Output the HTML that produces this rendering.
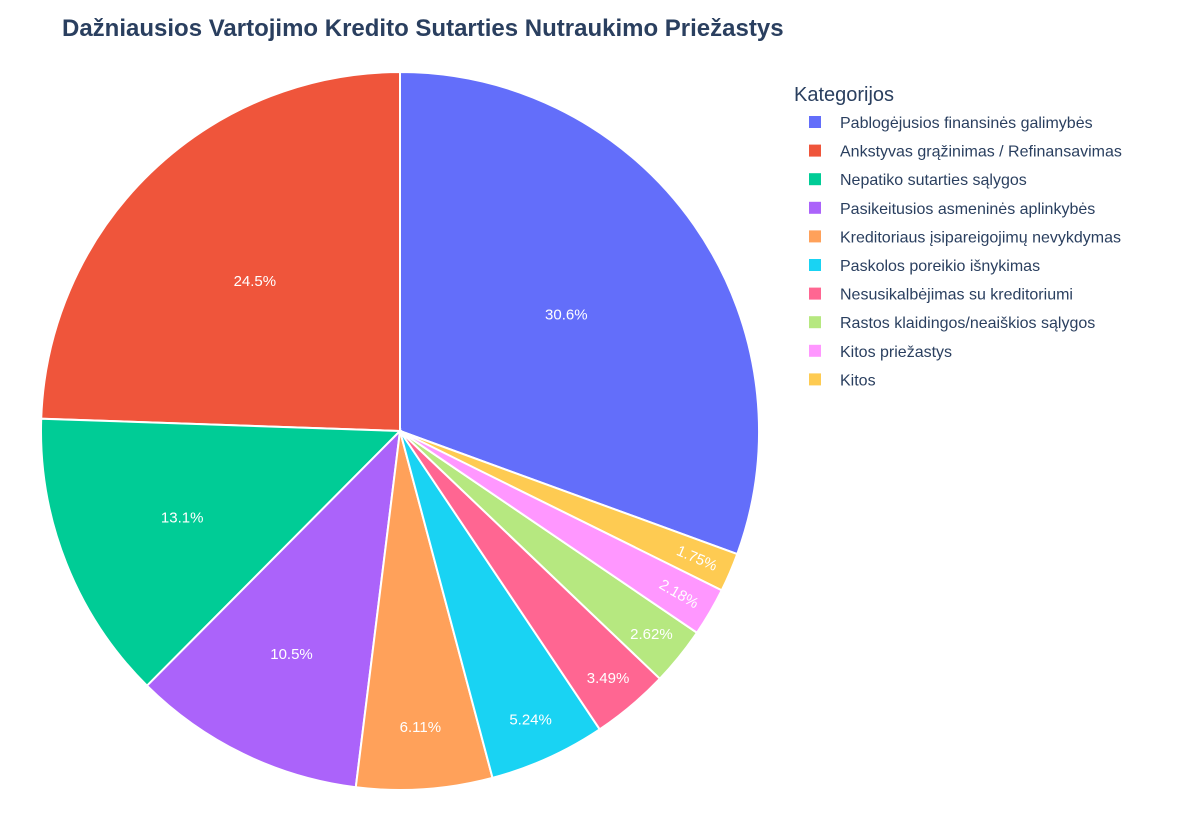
<!DOCTYPE html>
<html><head><meta charset="utf-8">
<style>
body{margin:0;background:#fff;}
svg{display:block;font-family:"Liberation Sans",Arial,sans-serif;}
</style></head>
<body>
<svg id="chart" width="1200" height="840" viewBox="0 0 1200 840">
<text x="62" y="36" font-size="24" font-weight="bold" fill="#2a3f5f">Dažniausios Vartojimo Kredito Sutarties Nutraukimo Priežastys</text>
<g id="slices"></g>
<g id="legend">
<text x="794" y="101" font-size="20" fill="#2a3f5f">Kategorijos</text>
</g>
</svg>
<script>
const categories = ["Pablogėjusios finansinės galimybės","Ankstyvas grąžinimas / Refinansavimas","Nepatiko sutarties sąlygos","Pasikeitusios asmeninės aplinkybės","Kreditoriaus įsipareigojimų nevykdymas","Paskolos poreikio išnykimas","Nesusikalbėjimas su kreditoriumi","Rastos klaidingos/neaiškios sąlygos","Kitos priežastys","Kitos"];
const values = [70,56,30,24,14,12,8,6,5,4];
const colors = ["#636efa","#EF553B","#00cc96","#ab63fa","#FFA15A","#19d3f3","#FF6692","#B6E880","#FF97FF","#FECB52"];
const NS="http://www.w3.org/2000/svg";
const cx=400, cy=431, R=359;
const total=values.reduce((a,b)=>a+b,0);
const g=document.getElementById('slices');
function pt(deg,r){const t=deg*Math.PI/180;return [cx+r*Math.sin(t), cy-r*Math.cos(t)];}
const F0=values[0]/total*360;
let cum=0;
values.forEach((v,i)=>{
  const frac=v/total;
  const a0=F0-cum*360, a1=F0-(cum+frac)*360;
  cum+=frac;
  const p0=pt(a0,R), p1=pt(a1,R);
  const large=(a0-a1)>180?1:0;
  const path=document.createElementNS(NS,'path');
  path.setAttribute('d',`M${cx},${cy} L${p0[0]},${p0[1]} A${R},${R} 0 ${large} 0 ${p1[0]},${p1[1]} Z`);
  path.setAttribute('fill',colors[i]);
  path.setAttribute('stroke','#fff');
  path.setAttribute('stroke-width','2');
  
  
  g.appendChild(path);
  const mid=(a0+a1)/2;
  const rr=R*Math.min(0.9,0.5+0.02/frac);
  const lp=pt(mid,rr);
  const pct=frac*100;
  const txt=document.createElementNS(NS,'text');
  txt.setAttribute('x',lp[0]);txt.setAttribute('y',lp[1]+5);
  txt.setAttribute('text-anchor','middle');
  txt.setAttribute('font-size','15');
  txt.setAttribute('fill','#fff');
  if(frac<0.025){let m=((mid%360)+360)%360;txt.setAttribute('transform',`rotate(${m-90} ${lp[0]} ${lp[1]})`);}
  txt.textContent=(pct>=10?pct.toFixed(1):pct.toPrecision(3))+'%';
  
  
  g.appendChild(txt);
});
const lg=document.getElementById('legend');
categories.forEach((c,i)=>{
  const y=122+i*28.6;
  const r=document.createElementNS(NS,'rect');
  r.setAttribute('x',809);r.setAttribute('y',y-6);r.setAttribute('width',12);r.setAttribute('height',12);
  r.setAttribute('fill',colors[i]);
  
  
  lg.appendChild(r);
  const t=document.createElementNS(NS,'text');
  t.setAttribute('x',840);t.setAttribute('y',y+6);
  t.setAttribute('font-size','16');t.setAttribute('fill','#2a3f5f');
  t.textContent=c;
  
  
  lg.appendChild(t);
});
</script>
</body></html>
